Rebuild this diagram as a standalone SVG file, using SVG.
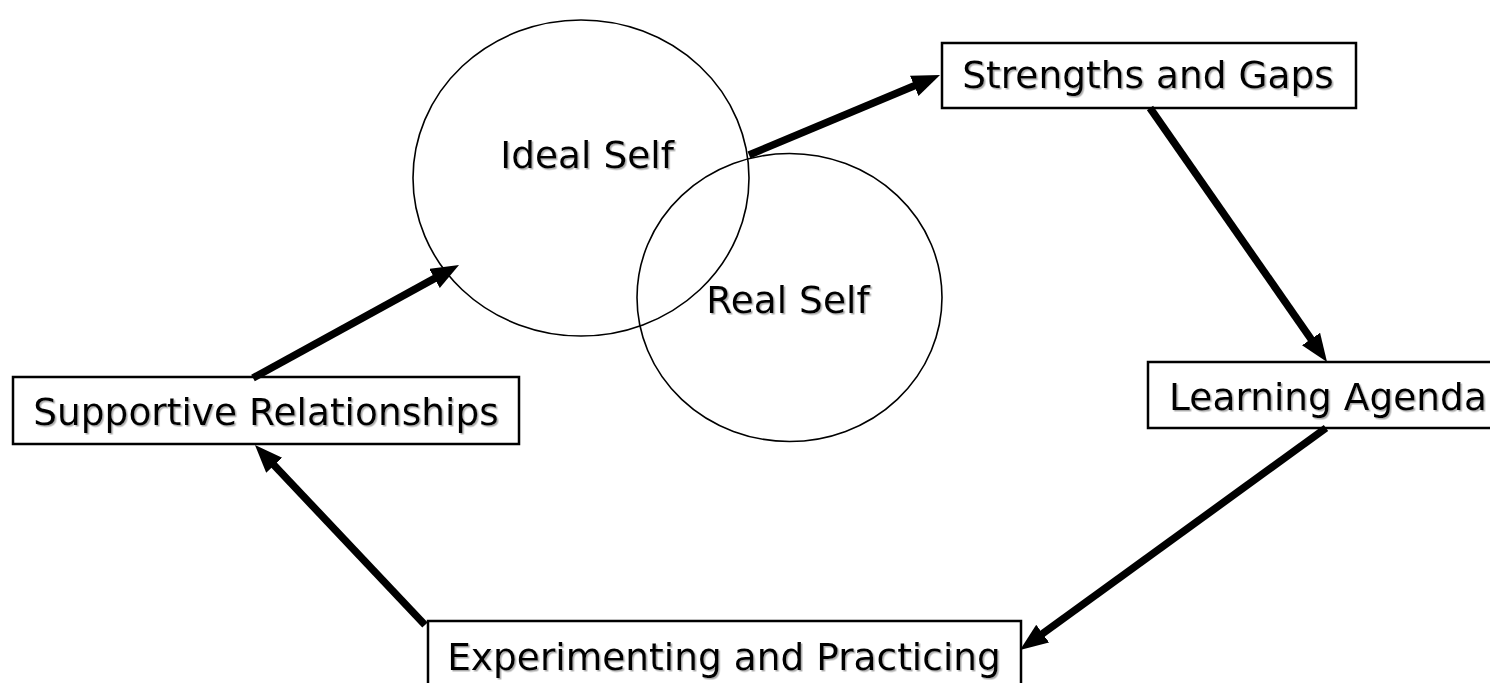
<svg xmlns="http://www.w3.org/2000/svg" width="1490" height="683" viewBox="0 0 1490 683">
<style>
.lbl{font-family:"DejaVu Sans",Verdana,sans-serif;font-size:37.5px;fill:#000;text-anchor:middle;filter:url(#sh)}
.box{fill:#fff;stroke:#000;stroke-width:2.5}
.ell{fill:none;stroke:#000;stroke-width:1.6}
.arr{stroke:#000;stroke-width:7.5;fill:none;marker-end:url(#ah)}
</style>
<defs>
<filter id="sh" x="-5%" y="-20%" width="110%" height="140%">
<feDropShadow dx="1.5" dy="1.5" stdDeviation="0.6" flood-color="#777" flood-opacity="0.6"/>
</filter>
<marker id="ah" markerUnits="userSpaceOnUse" markerWidth="30" markerHeight="24" refX="8" refY="11" orient="auto">
<path d="M0,0 L28,11 L0,22 z" fill="#000"/>
</marker>
</defs>
<rect width="1490" height="683" fill="#fff"/>
<g id="ideal-self">
<ellipse class="ell" cx="581" cy="178" rx="168" ry="158"/>
<text class="lbl" x="587" y="168">Ideal Self</text>
</g>
<g id="real-self">
<ellipse class="ell" cx="789.5" cy="297.5" rx="152.5" ry="144"/>
<text class="lbl" x="788" y="313">Real Self</text>
</g>
<g id="strengths-gaps">
<rect class="box" x="942" y="43" width="414" height="65"/>
<text class="lbl" x="1148" y="88">Strengths and Gaps</text>
</g>
<g id="learning-agenda">
<rect class="box" x="1148" y="362" width="350" height="66"/>
<text class="lbl" x="1328" y="410">Learning Agenda</text>
</g>
<g id="experimenting">
<rect class="box" x="428" y="621" width="593" height="70"/>
<text class="lbl" x="724" y="670">Experimenting and Practicing</text>
</g>
<g id="supportive">
<rect class="box" x="13" y="377" width="506" height="67"/>
<text class="lbl" x="266" y="425">Supportive Relationships</text>
</g>
<g id="connectors">
<line class="arr" x1="253" y1="378" x2="441.5" y2="274.6"/>
<line class="arr" x1="749" y1="155" x2="921.6" y2="82.7"/>
<line class="arr" x1="1150" y1="108" x2="1315.6" y2="345.6"/>
<line class="arr" x1="1326" y1="428" x2="1036.2" y2="638.3"/>
<line class="arr" x1="425" y1="625" x2="268.7" y2="459.5"/>
</g>
</svg>
